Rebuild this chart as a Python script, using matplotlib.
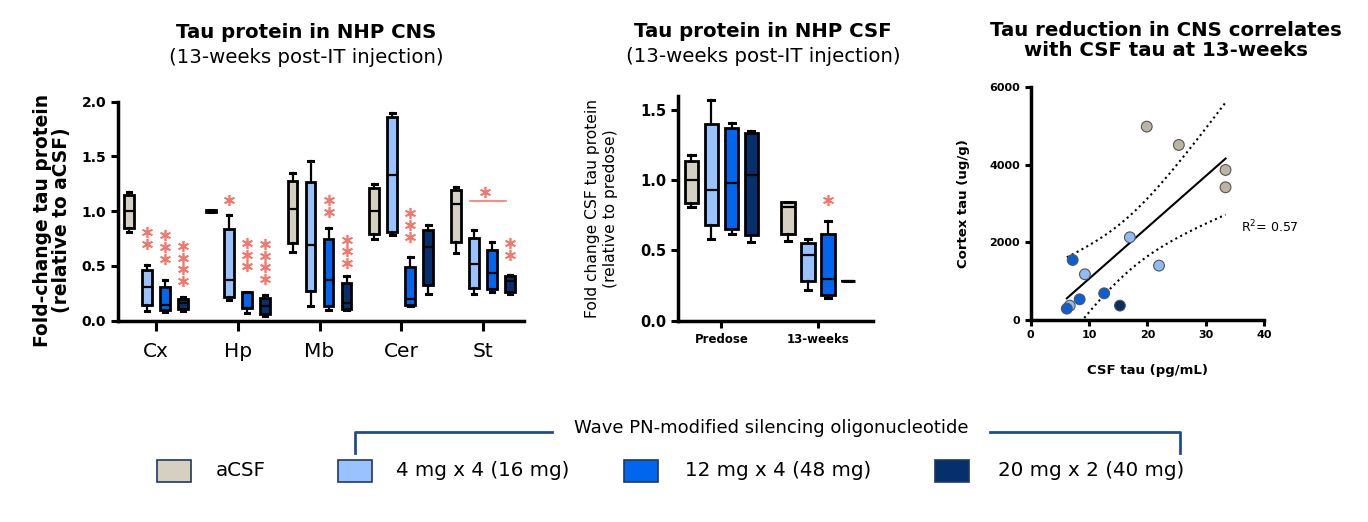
import numpy as np
import matplotlib
matplotlib.use("Agg")
import matplotlib.pyplot as plt
from matplotlib.patches import Rectangle
from matplotlib.lines import Line2D

# ---- data ---------------------------------------------------------------
regions = ["Cx", "Hp", "Mb", "Cer", "St"]
dose_labels = ["aCSF", "4 mg x 4 (16 mg)", "12 mg x 4 (48 mg)", "20 mg x 2 (40 mg)"]
dose_colors = ["#d6d0c2", "#99c2ff", "#0066f0", "#062f6e"]

# (whisker low, q1, median, q3, whisker high) per region
cns_acsf = [(0.81, 0.85, 1.00, 1.15, 1.18), (0.99, 0.99, 1.00, 1.01, 1.01),
            (0.63, 0.71, 1.02, 1.28, 1.35), (0.75, 0.79, 1.00, 1.21, 1.25),
            (0.62, 0.72, 1.07, 1.19, 1.22)]
cns_4mg = [(0.09, 0.14, 0.31, 0.46, 0.51), (0.19, 0.22, 0.37, 0.84, 0.97),
           (0.13, 0.27, 0.69, 1.27, 1.46), (0.78, 0.81, 1.33, 1.86, 1.90),
           (0.24, 0.30, 0.52, 0.76, 0.83)]
cns_12mg = [(0.08, 0.10, 0.14, 0.31, 0.37), (0.07, 0.115, 0.12, 0.26, 0.26),
            (0.10, 0.13, 0.37, 0.75, 0.85), (0.13, 0.14, 0.20, 0.49, 0.58),
            (0.26, 0.29, 0.44, 0.65, 0.72)]
cns_20mg = [(0.09, 0.11, 0.16, 0.20, 0.22), (0.04, 0.06, 0.13, 0.21, 0.235),
            (0.10, 0.11, 0.16, 0.34, 0.41), (0.24, 0.33, 0.67, 0.83, 0.87),
            (0.24, 0.26, 0.36, 0.41, 0.42)]

# significance stars: (region index, dose index, top y, number of stars)
cns_stars = [(0, 1, 0.81, 2), (0, 2, 0.78, 3), (0, 3, 0.68, 4),
             (1, 1, 1.10, 1), (1, 2, 0.71, 3), (1, 3, 0.70, 4),
             (2, 2, 1.10, 2), (2, 3, 0.74, 3),
             (3, 2, 0.98, 3),
             (4, 3, 0.71, 2)]

timepoints = ["Predose", "13-weeks"]
csf_acsf = [(0.81, 0.84, 1.00, 1.14, 1.18), (0.57, 0.62, 0.81, 0.845, 0.845)]
csf_4mg = [(0.58, 0.68, 0.93, 1.40, 1.57), (0.22, 0.28, 0.47, 0.55, 0.58)]
csf_12mg = [(0.62, 0.65, 0.98, 1.37, 1.41), (0.16, 0.18, 0.30, 0.62, 0.71)]
csf_20mg = [(0.56, 0.61, 1.04, 1.34, 1.35), (0.285, 0.285, 0.285, 0.285, 0.285)]
csf_stars = [(1, 2, 0.86, 1)]

# correlation: CSF tau (pg/mL) vs cortex tau (ug/g)
corr_dose = [0, 0, 0, 0, 1, 1, 1, 1, 2, 2, 2, 2, 3]
csf_tau = [19.9, 25.4, 33.4, 33.4, 17.0, 22.0, 9.3, 6.7, 7.2, 8.4, 12.6, 6.2, 15.3]
cortex_tau = [4986, 4513, 3868, 3421, 2132, 1401, 1178, 370, 1547, 533, 688, 292, 370]
r2_text = "R$^2$= 0.57"

star_color = "#f3786b"

fig = plt.figure(figsize=(13.68, 5.22), dpi=100)


def style_axes(ax):
    for s in ["top", "right"]:
        ax.spines[s].set_visible(False)
    for s in ["left", "bottom"]:
        ax.spines[s].set_linewidth(2.5)
    ax.tick_params(width=2.2, length=5)


def draw_boxes(ax, groups, offsets, width):
    for d, group in enumerate(groups):
        stats = [dict(whislo=g[0], q1=g[1], med=g[2], q3=g[3], whishi=g[4])
                 for g in group]
        pos = np.arange(len(group)) + offsets[d]
        ax.bxp(stats, positions=pos, widths=width, showfliers=False,
               patch_artist=True, manage_ticks=False,
               boxprops=dict(facecolor=dose_colors[d], edgecolor="black", linewidth=2),
               medianprops=dict(color="black", linewidth=1.6),
               whiskerprops=dict(color="black", linewidth=1.6),
               capprops=dict(color="black", linewidth=2.2),
               capwidths=width * 0.45)


def draw_stars(ax, stars, offsets, step):
    for gi, d, top, n in stars:
        ys = top - step * np.arange(n)
        ax.plot(np.full(n, gi + offsets[d]), ys, linestyle="none",
                marker=(6, 2, 0), markersize=8, markeredgewidth=1.2,
                color=star_color, zorder=5)


# ---- panel 1: CNS ---------------------------------------------------------
ax1 = fig.add_axes([0.0863, 0.3856, 0.2967, 0.4195])
off1 = [-0.33, -0.11, 0.11, 0.33]
draw_boxes(ax1, [cns_acsf, cns_4mg, cns_12mg, cns_20mg], off1, 0.12)
draw_stars(ax1, cns_stars, off1, 0.106)
ax1.plot([3.84, 4.28], [1.09, 1.09], color=star_color, linewidth=1.2)
ax1.plot([4.02], [1.18], linestyle="none", marker=(6, 2, 0), markersize=8,
         markeredgewidth=1.2, color=star_color)
ax1.set_xlim(-0.465, 4.5)
ax1.set_ylim(0, 2.0)
ax1.set_yticks([0, 0.5, 1.0, 1.5, 2.0])
ax1.set_yticklabels(["0.0", "0.5", "1.0", "1.5", "2.0"], fontweight="bold", fontsize=10)
ax1.set_xticks(range(len(regions)))
ax1.set_xticklabels(regions, fontsize=14.5)
style_axes(ax1)
ax1.tick_params(axis="x", length=7, pad=8)
ax1.set_ylabel("Fold-change tau protein\n(relative to aCSF)", fontsize=13.4,
               fontweight="bold", linespacing=1.05)
ax1.yaxis.set_label_coords(-0.115, 0.46)
ax1.text(0.464, 1.318, "Tau protein in NHP CNS", transform=ax1.transAxes,
         ha="center", va="center", fontsize=14.2, fontweight="bold")
ax1.text(0.464, 1.204, "(13-weeks post-IT injection)", transform=ax1.transAxes,
         ha="center", va="center", fontsize=14.2)

# ---- panel 2: CSF ---------------------------------------------------------
ax2 = fig.add_axes([0.4956, 0.3856, 0.1425, 0.4305])
off2 = [-0.31, -0.105, 0.105, 0.31]
draw_boxes(ax2, [csf_acsf, csf_4mg, csf_12mg, csf_20mg], off2, 0.14)
draw_stars(ax2, csf_stars, off2, 0.1)
ax2.set_xlim(-0.45, 1.57)
ax2.set_ylim(0, 1.6)
ax2.set_yticks([0, 0.5, 1.0, 1.5])
ax2.set_yticklabels(["0.0", "0.5", "1.0", "1.5"], fontweight="bold", fontsize=10.5)
ax2.set_xticks(range(len(timepoints)))
ax2.set_xticklabels(timepoints, fontsize=8.5, fontweight="bold")
style_axes(ax2)
ax2.set_ylabel("Fold change CSF tau protein\n(relative to predose)", fontsize=11.2,
               labelpad=16)
ax2.text(0.436, 1.285, "Tau protein in NHP CSF", transform=ax2.transAxes,
         ha="center", va="center", fontsize=14.2, fontweight="bold")
ax2.text(0.436, 1.174, "(13-weeks post-IT injection)", transform=ax2.transAxes,
         ha="center", va="center", fontsize=14.2)

# ---- panel 3: correlation -------------------------------------------------
ax3 = fig.add_axes([0.7534, 0.387, 0.1706, 0.4458])
x = np.array(csf_tau)
y = np.array(cortex_tau)
slope, icpt = np.polyfit(x, y, 1)
xs = np.linspace(x.min(), x.max(), 100)
fit = slope * xs + icpt
n = len(x)
resid = y - (slope * x + icpt)
se = np.sqrt(np.sum(resid ** 2) / (n - 2))
t_crit = 2.201  # t(0.975, df=11)
band = t_crit * se * np.sqrt(1 / n + (xs - x.mean()) ** 2 / np.sum((x - x.mean()) ** 2))
ax3.plot(xs, fit, color="black", linewidth=1.5)
ax3.plot(xs, fit + band, color="black", linestyle=":", linewidth=1.5)
ax3.plot(xs, fit - band, color="black", linestyle=":", linewidth=1.5)
pt_colors = ["#bdb5a3", "#8fbcf5", "#0a5fd6", "#082f63"]
ax3.scatter(x, y, s=60, c=[pt_colors[d] for d in corr_dose],
            edgecolors="#555555", linewidths=0.8, zorder=4)
ax3.set_xlim(0, 40)
ax3.set_ylim(0, 6000)
ax3.set_xticks([0, 10, 20, 30, 40])
ax3.set_yticks([0, 2000, 4000, 6000])
for lab in ax3.get_xticklabels() + ax3.get_yticklabels():
    lab.set_fontweight("bold")
    lab.set_fontsize(8)
style_axes(ax3)
ax3.tick_params(length=4)
ax3.set_xlabel("CSF tau (pg/mL)", fontsize=9.5, fontweight="bold", labelpad=17)
ax3.set_ylabel("Cortex tau (ug/g)", fontsize=9.5, fontweight="bold", labelpad=14)
ax3.text(36, 2400, r2_text, fontsize=9, ha="left", va="center")
ax3.text(0.58, 1.2, "Tau reduction in CNS correlates\nwith CSF tau at 13-weeks",
         transform=ax3.transAxes, ha="center", va="center", fontsize=14.2,
         fontweight="bold", linespacing=1.1)

# ---- shared legend ----------------------------------------------------------
W, H = 1368.0, 522.0
box_x = [157, 338, 624, 935]
text_x = [216, 396, 685, 998]
for d in range(len(dose_labels)):
    fig.add_artist(Rectangle((box_x[d] / W, 1 - 482 / H), 34 / W, 22 / H,
                             transform=fig.transFigure, facecolor=dose_colors[d],
                             edgecolor="#1f3864", linewidth=1.2))
    fig.text(text_x[d] / W, 1 - 471 / H, dose_labels[d], fontsize=14.3,
             ha="left", va="center")

bracket_color = "#1f4e8c"
fig.add_artist(Line2D([355 / W, 355 / W, 552 / W], [1 - 453 / H, 1 - 432 / H, 1 - 432 / H],
                      transform=fig.transFigure, color=bracket_color, linewidth=2))
fig.add_artist(Line2D([990 / W, 1180 / W, 1180 / W], [1 - 432 / H, 1 - 432 / H, 1 - 453 / H],
                      transform=fig.transFigure, color=bracket_color, linewidth=2))
fig.text(771 / W, 1 - 428 / H, "Wave PN-modified silencing oligonucleotide",
         fontsize=13, ha="center", va="center")

fig.savefig("out.png", dpi=100)
